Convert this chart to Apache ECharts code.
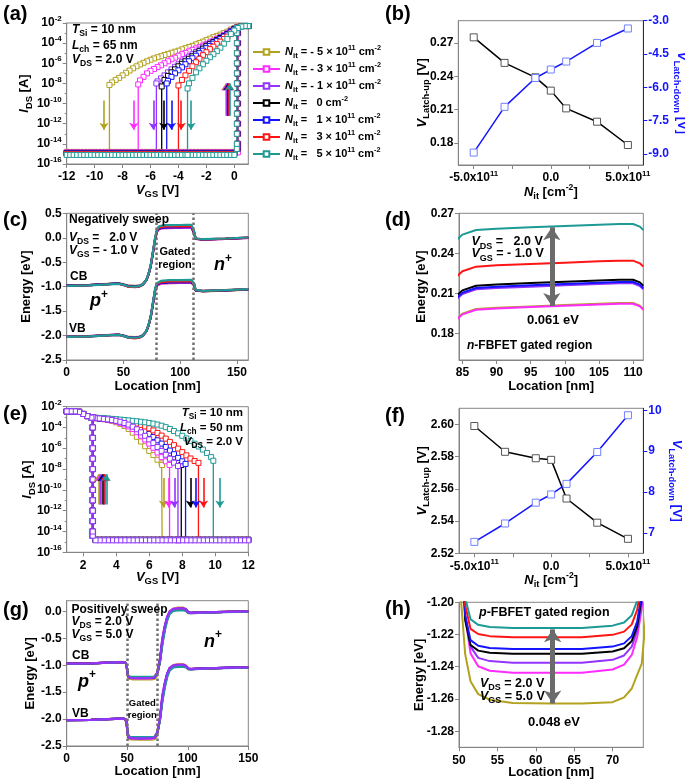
<!DOCTYPE html>
<html><head><meta charset="utf-8">
<script src="https://cdn.jsdelivr.net/npm/echarts@6/dist/echarts.min.js"></script>
<style>html,body{margin:0;padding:0;background:#fff}#c{width:685px;height:782px}</style>
</head><body><div id="c"></div>
<script>
// ---------------- DATA ----------------
const NIT = [-5, -3, -1, 0, 1, 3, 5];            // x 1e11 cm^-2
const VLU_B = [0.275, 0.252, 0.239, 0.227, 0.211, 0.199, 0.178];
const VLD_B = [-8.94, -6.88, -5.58, -5.20, -4.84, -4.00, -3.35];
const VLU_F = [2.599, 2.583, 2.579, 2.578, 2.554, 2.539, 2.529];
const VLD_F = [6.78, 7.23, 7.74, 7.94, 8.20, 8.98, 9.88];

// (a) n-FBFET I-V, log10(I_DS)
const GRID_UP_A = [1, 0.75, 0.5, 0.25, 0, -0.25, -0.5, -0.75, -1, -1.25, -1.5, -1.75, -2, -2.25, -2.5, -2.75, -3, -3.25, -3.5, -3.75, -4, -4.25, -4.5, -4.75, -5, -5.25, -5.5, -5.75, -6, -6.25, -6.5, -6.75, -7, -7.25, -7.5, -7.75, -8, -8.25, -8.5, -8.75];
const GRID_LOW_A = [-12, -11.75, -11.5, -11.25, -11, -10.75, -10.5, -10.25, -10, -9.75, -9.5, -9.25, -9, -8.75, -8.5, -8.25, -8, -7.75, -7.5, -7.25, -7, -6.75, -6.5, -6.25, -6, -5.75, -5.5, -5.25, -5, -4.75, -4.5, -4.25, -4, -3.75, -3.5, -3.25, -3, -2.75, -2.5, -2.25, -2, -1.75, -1.5, -1.25, -1, -0.75, -0.5, -0.25, 0, 0.25];
const UP_A = [
  [-2.3, -2.3, -2.3, -2.35, -2.5, -2.65, -2.85, -3.0, -3.15, -3.28, -3.4, -3.55, -3.7, -3.85, -3.98, -4.12, -4.27, -4.38, -4.5, -4.62, -4.75, -4.85, -4.95, -5.07, -5.18, -5.3, -5.4, -5.52, -5.65, -5.8, -5.95, -6.12, -6.3, -6.5, -6.72, -6.95, -7.2, -7.45, -7.65, -7.9],
  [-2.3, -2.3, -2.3, -2.4, -2.55, -2.75, -3.0, -3.2, -3.4, -3.57, -3.75, -3.92, -4.1, -4.25, -4.4, -4.53, -4.67, -4.82, -4.97, -5.1, -5.25, -5.45, -5.6, -5.8, -6.0, -6.2, -6.38, -6.57, -6.75, -7.0, -7.35, -7.7],
  [-2.3, -2.3, -2.3, -2.4, -2.6, -2.8, -3.05, -3.25, -3.45, -3.65, -3.85, -4.02, -4.2, -4.42, -4.65, -4.88, -5.1, -5.35, -5.6, -5.85, -6.1, -6.35, -6.6, -6.9, -7.2, -7.5, -7.8],
  [-2.3, -2.3, -2.3, -2.4, -2.6, -2.85, -3.1, -3.3, -3.5, -3.7, -3.9, -4.1, -4.3, -4.55, -4.8, -5.05, -5.3, -5.55, -5.8, -6.05, -6.3, -6.6, -6.9, -7.25, -7.65],
  [-2.3, -2.3, -2.3, -2.42, -2.65, -2.9, -3.15, -3.35, -3.6, -3.8, -4.05, -4.28, -4.5, -4.75, -5.0, -5.25, -5.5, -5.8, -6.1, -6.4, -6.7, -7.0, -7.35, -7.75],
  [-2.3, -2.3, -2.3, -2.45, -2.8, -3.05, -3.35, -3.6, -3.85, -4.1, -4.35, -4.6, -4.9, -5.2, -5.55, -5.9, -6.3, -6.75, -7.2, -7.65],
  [-2.3, -2.3, -2.35, -2.5, -2.75, -3.1, -3.6, -4.05, -4.45, -4.8, -5.1, -5.4, -5.75, -6.1, -6.5, -6.9, -7.45, -8.0]
];
const LDTOP_A = [-8.15, -8.1, -8.0, -8.3, -8.0, -8.2, -8.5];
const OFF_A = [-14.8, -14.85, -14.9, -14.9, -14.95, -15.0, -15.1];
const RISE_A = [-14.5, -14, -13, -12, -11, -10, -9, -8, -7, -6, -5, -4, -3, -2.45];
const ARR_DN_A_X = [-9.33, -7.2, -5.8, -5.05, -4.5, -3.8, -3.1];
const ARR_DN_A_Y = [-9.7, -12.6];
const ARR_UP_A_X = [-0.62, -0.57, -0.52, -0.47, -0.42, -0.37, -0.32];
const ARR_UP_A_Y = [-11.2, -8.0];

// (e) p-FBFET I-V, log10(I_DS)
const GRID_E = [1, 1.25, 1.5, 1.75, 2, 2.25, 2.5, 2.75, 3, 3.25, 3.5, 3.75, 4, 4.25, 4.5, 4.75, 5, 5.25, 5.5, 5.75, 6, 6.25, 6.5, 6.75, 7, 7.25, 7.5, 7.75, 8, 8.25, 8.5, 8.75, 9, 9.25, 9.5, 9.75, 10, 10.25, 10.5, 10.75, 11, 11.25, 11.5, 11.75, 12];
const UP_E = [
  [-2.45, -2.45, -2.45, -2.5, -2.7, -2.9, -3.05, -3.1, -3.15, -3.2, -3.28, -3.38, -3.5, -3.65, -3.85, -4.15, -4.5, -4.9, -5.35, -5.8, -6.25, -6.65, -7.1, -7.45],
  [-2.45, -2.45, -2.45, -2.5, -2.7, -2.9, -3.05, -3.1, -3.15, -3.2, -3.25, -3.32, -3.42, -3.55, -3.7, -3.9, -4.15, -4.45, -4.8, -5.15, -5.55, -5.95, -6.4, -6.85, -7.25],
  [-2.45, -2.45, -2.45, -2.5, -2.7, -2.9, -3.05, -3.1, -3.13, -3.18, -3.22, -3.28, -3.36, -3.45, -3.57, -3.72, -3.92, -4.17, -4.47, -4.8, -5.15, -5.5, -5.88, -6.25, -6.62, -7.0, -7.38],
  [-2.45, -2.45, -2.45, -2.5, -2.7, -2.9, -3.05, -3.1, -3.13, -3.17, -3.2, -3.25, -3.32, -3.4, -3.5, -3.63, -3.8, -4.0, -4.25, -4.52, -4.82, -5.13, -5.45, -5.8, -6.15, -6.5, -6.88, -7.25],
  [-2.45, -2.45, -2.45, -2.5, -2.7, -2.9, -3.05, -3.08, -3.12, -3.15, -3.2, -3.24, -3.3, -3.37, -3.45, -3.56, -3.7, -3.88, -4.1, -4.35, -4.62, -4.92, -5.23, -5.55, -5.88, -6.22, -6.57, -6.92, -7.25],
  [-2.45, -2.45, -2.45, -2.5, -2.7, -2.9, -3.05, -3.08, -3.1, -3.13, -3.17, -3.2, -3.25, -3.3, -3.36, -3.43, -3.52, -3.62, -3.75, -3.9, -4.08, -4.28, -4.52, -4.78, -5.07, -5.38, -5.7, -6.03, -6.37, -6.68, -6.98, -7.22],
  [-2.45, -2.45, -2.45, -2.5, -2.7, -2.9, -3.05, -3.05, -3.08, -3.1, -3.13, -3.17, -3.2, -3.24, -3.28, -3.32, -3.36, -3.4, -3.45, -3.5, -3.56, -3.63, -3.72, -3.83, -3.97, -4.14, -4.34, -4.56, -4.8, -5.05, -5.3, -5.56, -5.83, -6.12, -6.45, -6.85]
];
const LDTOP_E = [-7.6, -7.6, -7.7, -7.6, -7.5, -7.4, -7.2];
const OFF_E = [-14.8, -14.8, -14.85, -14.8, -14.8, -14.8, -14.8];
const RISE_E = [-14.4, -14, -13, -12, -11, -10, -9, -8, -7, -6, -5, -4, -3];
const ARR_DN_E_X = [6.86, 7.18, 7.52, 8.49, 8.83, 9.29, 10.28];
const ARR_DN_E_Y = [-8.85, -11.7];
const ARR_UP_E_X = [2.92, 3.0, 3.08, 3.16, 3.24, 3.32, 3.4];
const ARR_UP_E_Y = [-11.4, -8.5];

// (c)/(d) n-FBFET band diagram [eV]
const LOC_C = [0, 20, 40, 46, 50, 54, 60, 64, 67, 70, 72, 74, 76, 78, 79.5, 81, 83, 85, 87, 90, 95, 100, 105, 108, 110, 111, 111.5, 112.5, 113.5, 115, 120, 140, 160];
const CB_C = [
  [-0.975, -0.965, -0.94, -0.935, -0.95, -0.975, -0.985, -0.975, -0.945, -0.875, -0.765, -0.59, -0.32, -0.04, 0.12, 0.169, 0.185, 0.1947, 0.1982, 0.1992, 0.2002, 0.2012, 0.2022, 0.2027, 0.2027, 0.2007, 0.1982, 0.075, -0.025, -0.04, -0.04, -0.025, -0.005],
  [-0.978, -0.967, -0.942, -0.937, -0.955, -0.98, -0.99, -0.98, -0.95, -0.875, -0.76, -0.585, -0.31, -0.03, 0.12, 0.1687, 0.1847, 0.1942, 0.1977, 0.1987, 0.1997, 0.2007, 0.2017, 0.2022, 0.2022, 0.2002, 0.1977, 0.075, -0.025, -0.04, -0.038, -0.023, -0.003],
  [-0.98, -0.968, -0.943, -0.938, -0.96, -0.99, -1.0, -0.99, -0.955, -0.875, -0.755, -0.58, -0.3, -0.02, 0.135, 0.184, 0.2, 0.2095, 0.213, 0.214, 0.215, 0.216, 0.217, 0.2175, 0.2175, 0.2155, 0.213, 0.09, -0.02, -0.035, -0.036, -0.021, -0.002],
  [-0.98, -0.969, -0.944, -0.939, -0.96, -0.99, -1.0, -0.99, -0.957, -0.875, -0.755, -0.578, -0.3, -0.015, 0.14, 0.1867, 0.2027, 0.2122, 0.2157, 0.2167, 0.2177, 0.2187, 0.2197, 0.2202, 0.2202, 0.2182, 0.2157, 0.09, -0.02, -0.035, -0.035, -0.02, 0.0],
  [-0.981, -0.97, -0.945, -0.94, -0.963, -0.995, -1.005, -0.995, -0.96, -0.875, -0.755, -0.576, -0.295, -0.01, 0.14, 0.185, 0.201, 0.2105, 0.214, 0.215, 0.216, 0.217, 0.218, 0.2185, 0.2185, 0.2165, 0.214, 0.09, -0.02, -0.034, -0.034, -0.019, 0.001],
  [-0.982, -0.971, -0.946, -0.941, -0.966, -1.0, -1.012, -1.0, -0.963, -0.875, -0.752, -0.573, -0.29, 0.0, 0.15, 0.201, 0.217, 0.2265, 0.23, 0.231, 0.232, 0.233, 0.234, 0.2345, 0.2345, 0.2325, 0.23, 0.1, -0.015, -0.032, -0.032, -0.017, 0.003],
  [-0.983, -0.972, -0.947, -0.942, -0.962, -0.992, -1.0, -0.99, -0.957, -0.87, -0.745, -0.565, -0.28, 0.02, 0.17, 0.2285, 0.2445, 0.254, 0.2575, 0.2585, 0.2595, 0.2605, 0.2615, 0.262, 0.262, 0.26, 0.2575, 0.12, -0.01, -0.03, -0.03, -0.015, 0.005]
];
const LOC_CV = [0, 20, 40, 46, 50, 54, 60, 64, 67, 70, 72, 74, 76, 78, 79.5, 81, 83, 90, 100, 110, 111.5, 112.5, 113.5, 115, 120, 140, 160];
const VB_C = [
  [-2.02, -2.01, -1.985, -1.98, -1.995, -2.02, -2.03, -2.02, -1.99, -1.92, -1.81, -1.635, -1.365, -1.085, -0.975, -0.949, -0.94, -0.926, -0.924, -0.922, -0.928, -0.985, -1.08, -1.095, -1.095, -1.08, -1.06],
  [-2.023, -2.012, -1.987, -1.982, -2.0, -2.025, -2.035, -2.025, -1.995, -1.92, -1.805, -1.63, -1.355, -1.075, -0.975, -0.949, -0.94, -0.927, -0.924, -0.923, -0.928, -0.985, -1.08, -1.095, -1.093, -1.078, -1.058],
  [-2.025, -2.013, -1.988, -1.983, -2.005, -2.035, -2.045, -2.035, -2.0, -1.92, -1.8, -1.625, -1.345, -1.065, -0.96, -0.934, -0.925, -0.911, -0.909, -0.908, -0.913, -0.97, -1.075, -1.09, -1.091, -1.076, -1.057],
  [-2.025, -2.014, -1.989, -1.984, -2.005, -2.035, -2.045, -2.035, -2.002, -1.92, -1.8, -1.623, -1.345, -1.06, -0.955, -0.931, -0.922, -0.908, -0.906, -0.905, -0.91, -0.97, -1.075, -1.09, -1.09, -1.075, -1.055],
  [-2.026, -2.015, -1.99, -1.985, -2.008, -2.04, -2.05, -2.04, -2.005, -1.92, -1.8, -1.621, -1.34, -1.055, -0.955, -0.933, -0.924, -0.91, -0.908, -0.907, -0.912, -0.97, -1.075, -1.089, -1.089, -1.074, -1.054],
  [-2.027, -2.016, -1.991, -1.986, -2.011, -2.045, -2.057, -2.045, -2.008, -1.92, -1.797, -1.618, -1.335, -1.045, -0.945, -0.917, -0.908, -0.894, -0.892, -0.891, -0.896, -0.96, -1.07, -1.087, -1.087, -1.072, -1.052],
  [-2.028, -2.017, -1.992, -1.987, -2.007, -2.037, -2.045, -2.035, -2.002, -1.915, -1.79, -1.61, -1.325, -1.025, -0.93, -0.89, -0.881, -0.867, -0.865, -0.863, -0.869, -0.94, -1.065, -1.085, -1.085, -1.07, -1.05]
];
const DIV_C = [79, 111.5];
const ARR_D = [98.1, 0.2595, 0.2005];

// (g)/(h) p-FBFET band diagram [eV]
const LOC_G = [0, 20, 40, 46, 48.5, 49.5, 50.2, 50.8, 51.5, 52.5, 54, 57, 62, 66, 70, 71.5, 72.5, 73.2, 73.8, 74.5, 75.5, 77, 79, 81, 83, 85, 88, 92, 96, 98.5, 100.5, 103, 110, 130, 150];
const CB_G = [
  [-0.968, -0.963, -0.943, -0.938, -0.95, -1.005, -1.195, -1.232, -1.249, -1.257, -1.2605, -1.2625, -1.2628, -1.2628, -1.262, -1.259, -1.2535, -1.245, -1.238, -1.2, -1.1, -0.92, -0.53, -0.285, -0.11, 0.0, 0.055, 0.07, 0.072, 0.045, -0.012, -0.024, -0.02, -0.008, 0.0],
  [-0.969, -0.964, -0.944, -0.939, -0.95, -1.002, -1.16, -1.2087, -1.2317, -1.2397, -1.2425, -1.2437, -1.2437, -1.2437, -1.2417, -1.2387, -1.2327, -1.2217, -1.2037, -1.165, -1.085, -0.905, -0.51, -0.275, -0.1, 0.0, 0.05, 0.062, 0.064, 0.04, -0.015, -0.025, -0.02, -0.008, 0.0],
  [-0.97, -0.965, -0.945, -0.94, -0.95, -1.0, -1.15, -1.2075, -1.2275, -1.2345, -1.2365, -1.2375, -1.2375, -1.2375, -1.2357, -1.233, -1.2275, -1.2175, -1.2005, -1.16, -1.08, -0.9, -0.5, -0.27, -0.1, -0.005, 0.045, 0.055, 0.057, 0.035, -0.018, -0.026, -0.02, -0.008, 0.0],
  [-0.97, -0.965, -0.945, -0.94, -0.95, -1.0, -1.135, -1.211, -1.2265, -1.23, -1.2313, -1.232, -1.232, -1.232, -1.2305, -1.2285, -1.224, -1.215, -1.197, -1.158, -1.085, -0.915, -0.56, -0.3, -0.12, -0.02, 0.035, 0.048, 0.05, 0.03, -0.02, -0.027, -0.021, -0.009, 0.0],
  [-0.971, -0.966, -0.946, -0.941, -0.951, -1.0, -1.13, -1.208, -1.2235, -1.227, -1.2283, -1.229, -1.229, -1.229, -1.2275, -1.2255, -1.221, -1.212, -1.194, -1.155, -1.085, -0.92, -0.57, -0.31, -0.13, -0.025, 0.03, 0.042, 0.044, 0.025, -0.022, -0.028, -0.022, -0.01, 0.0],
  [-0.971, -0.966, -0.946, -0.941, -0.951, -1.0, -1.125, -1.2017, -1.2165, -1.2197, -1.221, -1.2217, -1.2217, -1.2217, -1.2202, -1.2182, -1.2137, -1.2047, -1.187, -1.15, -1.085, -0.93, -0.59, -0.33, -0.15, -0.035, 0.02, 0.032, 0.034, 0.018, -0.025, -0.03, -0.023, -0.01, 0.0],
  [-0.972, -0.967, -0.947, -0.942, -0.952, -1.0, -1.12, -1.197, -1.2105, -1.214, -1.2153, -1.216, -1.216, -1.216, -1.2145, -1.2125, -1.208, -1.199, -1.183, -1.15, -1.09, -0.95, -0.62, -0.36, -0.17, -0.05, 0.01, 0.02, 0.022, 0.01, -0.03, -0.032, -0.025, -0.012, -0.002]
];
const LOC_GV = [0, 20, 40, 46, 48.5, 49.5, 50.2, 51, 53, 60, 70, 72.5, 73.8, 74.5, 75.5, 77, 79, 81, 83, 85, 88, 92, 96, 98.5, 100.5, 103, 110, 130, 150];
const VB_G = [
  [-2.018, -2.013, -1.993, -1.988, -2.0, -2.09, -2.3, -2.36, -2.378, -2.3828, -2.382, -2.374, -2.358, -2.32, -2.2, -2.0, -1.59, -1.345, -1.16, -1.05, -0.995, -0.98, -0.978, -1.005, -1.058, -1.067, -1.061, -1.048, -1.04],
  [-2.019, -2.014, -1.994, -1.989, -2.0, -2.072, -2.26, -2.338, -2.361, -2.3637, -2.3617, -2.353, -2.324, -2.28, -2.185, -1.985, -1.57, -1.335, -1.15, -1.05, -1.0, -0.988, -0.986, -1.01, -1.06, -1.068, -1.062, -1.049, -1.04],
  [-2.02, -2.015, -1.995, -1.99, -2.0, -2.07, -2.25, -2.335, -2.355, -2.3575, -2.3555, -2.348, -2.32, -2.275, -2.18, -1.98, -1.56, -1.33, -1.15, -1.055, -1.005, -0.995, -0.993, -1.015, -1.062, -1.069, -1.062, -1.049, -1.04],
  [-2.02, -2.015, -1.995, -1.99, -2.0, -2.07, -2.235, -2.336, -2.35, -2.352, -2.35, -2.344, -2.316, -2.27, -2.185, -1.995, -1.62, -1.36, -1.17, -1.07, -1.015, -1.002, -1.0, -1.02, -1.065, -1.07, -1.063, -1.05, -1.04],
  [-2.021, -2.016, -1.996, -1.991, -2.0, -2.07, -2.23, -2.333, -2.347, -2.349, -2.347, -2.341, -2.313, -2.266, -2.185, -2.0, -1.63, -1.37, -1.18, -1.075, -1.02, -1.008, -1.006, -1.025, -1.067, -1.071, -1.064, -1.05, -1.04],
  [-2.021, -2.016, -1.996, -1.991, -2.0, -2.07, -2.225, -2.326, -2.34, -2.342, -2.34, -2.334, -2.306, -2.262, -2.185, -2.01, -1.65, -1.39, -1.2, -1.085, -1.03, -1.018, -1.016, -1.032, -1.07, -1.073, -1.065, -1.051, -1.04],
  [-2.022, -2.017, -1.997, -1.992, -2.0, -2.07, -2.22, -2.32, -2.334, -2.336, -2.334, -2.328, -2.3, -2.26, -2.19, -2.03, -1.68, -1.42, -1.22, -1.1, -1.04, -1.03, -1.028, -1.04, -1.075, -1.075, -1.067, -1.053, -1.042]
];
const DIV_G = [50, 75];
const ARR_H = [62.2, -1.2168, -1.2628];

const LEG_KEYS = ['nm5', 'nm3', 'nm1', 'n0', 'n1', 'n3', 'n5'];
const LEG_LABELS = [
  '{i|N}{sub|it} = - 5 \u00d7 10{sup|11} cm{sup|-2}',
  '{i|N}{sub|it} = - 3 \u00d7 10{sup|11} cm{sup|-2}',
  '{i|N}{sub|it} = - 1 \u00d7 10{sup|11} cm{sup|-2}',
  '{i|N}{sub|it} =   0 cm{sup|-2}',
  '{i|N}{sub|it} =   1 \u00d7 10{sup|11} cm{sup|-2}',
  '{i|N}{sub|it} =   3 \u00d7 10{sup|11} cm{sup|-2}',
  '{i|N}{sub|it} =   5 \u00d7 10{sup|11} cm{sup|-2}'
];

// ---------------- STYLE ----------------
const FF = '"Liberation Sans", Arial, Helvetica, sans-serif';
const AXC = '#858585';
const BLUE = '#1414FF';
const COLORS = ['#B3A21F', '#FF2BFF', '#9333FF', '#000000', '#1414FF', '#FF1414', '#1E9A96'];

function R(fs) {
  const sb = +(fs * 0.72).toFixed(1), sp = +(fs * 0.66).toFixed(1);
  return {
    i: {fontStyle: 'italic', fontWeight: 'bold', fontFamily: FF, fontSize: fs},
    sub: {fontWeight: 'bold', fontFamily: FF, fontSize: sb, lineHeight: sb, verticalAlign: 'bottom'},
    sup: {fontWeight: 'bold', fontFamily: FF, fontSize: sp, lineHeight: sp, verticalAlign: 'top'}
  };
}

function axis(kind, gi, o) {
  const color = o.color || '#000';
  const a = {
    type: 'value', gridIndex: gi, min: o.min, max: o.max,
    position: o.pos || (kind === 'x' ? 'bottom' : 'left'),
    name: o.name, nameLocation: 'middle', nameGap: o.gap, nameMoveOverlap: false,
    nameTextStyle: {color: color, fontSize: 13, fontWeight: 'bold', fontFamily: FF, lineHeight: 18, rich: R(13)},
    axisLine: {show: true, onZero: false, lineStyle: {color: o.lineColor || AXC, width: 1}},
    axisTick: {show: true, inside: false, length: 4, lineStyle: {color: o.lineColor || AXC}},
    axisLabel: {show: true, color: color, fontSize: 12, fontWeight: 'bold', fontFamily: FF, margin: 5, lineHeight: 16, rich: R(12), formatter: o.fmt},
    splitLine: {show: false}
  };
  if (o.nameRotate !== undefined) a.nameRotate = o.nameRotate;
  if (o.interval !== undefined) {
    a.interval = o.interval;
  } else {
    a.axisLabel.customValues = o.labels;
    a.axisTick.customValues = o.ticks || o.labels;
  }
  if (o.minor) a.minorTick = {show: true, splitNumber: o.minor, length: 2, lineStyle: {color: AXC}};
  return a;
}

const fExp = v => '10{sup|' + v + '}';
const fN = v => v === 0 ? '0.0' : (v.toFixed(1) + 'x10{sup|11}');
const f0 = v => String(v);
const f1 = v => v.toFixed(1);
const f2 = v => v.toFixed(2);

const grids = [
  {left: 66.7, top: 23, width: 181.6, height: 141},
  {left: 458.3, top: 20.7, width: 185, height: 144.3},
  {left: 66.7, top: 213.3, width: 181.6, height: 146.7},
  {left: 459, top: 213.3, width: 184.3, height: 146.7},
  {left: 66.7, top: 406.7, width: 181.6, height: 145.6},
  {left: 459, top: 408.3, width: 184.3, height: 145},
  {left: 66.7, top: 600.7, width: 181.6, height: 145.3},
  {left: 459, top: 602.3, width: 184.3, height: 145}
].map(g => Object.assign(g, {show: true, borderColor: AXC, borderWidth: 1, backgroundColor: 'transparent', containLabel: false, outerBoundsMode: 'none'}));

const nameV = s => '{i|V}{sub|' + s + '} [V]';
const xAxis = [
  axis('x', 0, {min: -12, max: 1, labels: [-12, -10, -8, -6, -4, -2, 0], fmt: f0, name: nameV('GS'), gap: 17}),
  axis('x', 1, {min: -6, max: 6, labels: [-5, 0, 5], ticks: [-5, -2.5, 0, 2.5, 5], fmt: fN, name: '{i|N}{sub|it} [cm{sup|-2}]', gap: 18}),
  axis('x', 2, {min: 0, max: 160, labels: [0, 50, 100, 150], fmt: f0, name: 'Location [nm]', gap: 17}),
  axis('x', 3, {min: 84.5, max: 111.5, labels: [85, 90, 95, 100, 105, 110], fmt: f0, name: 'Location [nm]', gap: 17}),
  axis('x', 4, {min: 1, max: 12, labels: [2, 4, 6, 8, 10, 12], fmt: f0, name: nameV('GS'), gap: 16}),
  axis('x', 5, {min: -6, max: 6, labels: [-5, 0, 5], ticks: [-5, -2.5, 0, 2.5, 5], fmt: fN, name: '{i|N}{sub|it} [cm{sup|-2}]', gap: 18}),
  axis('x', 6, {min: 0, max: 150, labels: [0, 50, 100, 150], fmt: f0, name: 'Location [nm]', gap: 16}),
  axis('x', 7, {min: 50, max: 74, labels: [50, 55, 60, 65, 70], fmt: f0, name: 'Location [nm]', gap: 16})
];
const yAxis = [
  axis('y', 0, {min: -16, max: -2, interval: 2, minor: 2, fmt: fExp, name: '{i|I}{sub|DS} [A]', gap: 33}),
  axis('y', 1, {min: 0.16, max: 0.29, labels: [0.18, 0.21, 0.24, 0.27], fmt: f2, name: nameV('Latch-up'), gap: 27}),
  axis('y', 1, {min: -9.5, max: -3.0, pos: 'right', labels: [-9, -7.5, -6, -4.5, -3], fmt: f1, name: nameV('Latch-down'), gap: 29, color: BLUE, lineColor: BLUE, nameRotate: -90}),
  axis('y', 2, {min: -2.5, max: 0.5, interval: 0.5, fmt: f1, name: 'Energy [eV]', gap: 31}),
  axis('y', 3, {min: 0.16, max: 0.27, labels: [0.18, 0.21, 0.24, 0.27], fmt: f2, name: 'Energy [eV]', gap: 29}),
  axis('y', 4, {min: -16, max: -2, interval: 2, minor: 2, fmt: fExp, name: '{i|I}{sub|DS} [A]', gap: 30}),
  axis('y', 5, {min: 2.52, max: 2.61, labels: [2.52, 2.54, 2.56, 2.58, 2.60], fmt: f2, name: nameV('Latch-up'), gap: 28}),
  axis('y', 5, {min: 6.5, max: 10.05, pos: 'right', labels: [7, 8, 9, 10], fmt: f0, name: nameV('Latch-down'), gap: 24, color: BLUE, lineColor: BLUE, nameRotate: -90}),
  axis('y', 6, {min: -2.5, max: 0.2, labels: [-2.5, -2.0, -1.5, -1.0, -0.5, 0.0], fmt: f1, name: 'Energy [eV]', gap: 27}),
  axis('y', 7, {min: -1.29, max: -1.20, labels: [-1.28, -1.26, -1.24, -1.22, -1.20], fmt: f2, name: 'Energy [eV]', gap: 31})
];

const series = [];
const arrowML = (color, lines) => ({
  silent: true, animation: false, symbol: ['none', 'arrow'], symbolSize: 7,
  label: {show: false}, emphasis: {disabled: true},
  lineStyle: {color: color, width: 1.6, type: 'solid', opacity: 1},
  itemStyle: {color: color},
  data: lines
});
const seg = (x, y0, y1) => [{coord: [x, y0]}, {coord: [x, y1]}];

// (a)
for (let k = 0; k < 7; k++) {
  const pts = [], vlu = VLU_B[k], vld = VLD_B[k], off = OFF_A[k], up = UP_A[k];
  GRID_LOW_A.forEach(v => { if (v < vlu) pts.push([v, off]); });
  RISE_A.forEach(l => pts.push([vlu, l]));
  for (let j = up.length - 1; j >= 0; j--) if (GRID_UP_A[j] > vlu) pts.push([GRID_UP_A[j], up[j]]);
  up.forEach((y, j) => pts.push([GRID_UP_A[j], y]));
  pts.push([vld, LDTOP_A[k]]);
  pts.push([vld, off]);
  series.push({
    name: LEG_KEYS[k], type: 'line', xAxisIndex: 0, yAxisIndex: 0, data: pts,
    symbol: 'rect', symbolSize: 5, showAllSymbol: true,
    lineStyle: {color: COLORS[k], width: 1.3},
    itemStyle: {color: '#fff', borderColor: COLORS[k], borderWidth: 1},
    emphasis: {disabled: true}, animation: false,
    markLine: arrowML(COLORS[k], [seg(ARR_DN_A_X[k], ARR_DN_A_Y[0], ARR_DN_A_Y[1]), seg(ARR_UP_A_X[k], ARR_UP_A_Y[0], ARR_UP_A_Y[1])])
  });
}
// (b) & (f)
function latchSeries(xi, yl, yr, up, dn) {
  series.push({type: 'line', xAxisIndex: xi, yAxisIndex: yl, data: NIT.map((n, i) => [n, up[i]]),
    symbol: 'rect', symbolSize: 7, lineStyle: {color: '#000', width: 1.5},
    itemStyle: {color: '#fff', borderColor: '#555', borderWidth: 1}, emphasis: {disabled: true}, animation: false});
  series.push({type: 'line', xAxisIndex: xi, yAxisIndex: yr, data: NIT.map((n, i) => [n, dn[i]]),
    symbol: 'rect', symbolSize: 7, lineStyle: {color: BLUE, width: 1.5},
    itemStyle: {color: '#fff', borderColor: '#7080FF', borderWidth: 1}, emphasis: {disabled: true}, animation: false});
}
latchSeries(1, 1, 2, VLU_B, VLD_B);
latchSeries(5, 6, 7, VLU_F, VLD_F);

// (c) band
const divML = (vals) => ({silent: true, animation: false, symbol: 'none', label: {show: false}, emphasis: {disabled: true},
  lineStyle: {color: '#707070', width: 2.5, type: 'dotted', opacity: 1}, data: vals.map(v => ({xAxis: v}))});
const bandLine = (xi, yi, pts, k, w, z, extra) => Object.assign({
  type: 'line', xAxisIndex: xi, yAxisIndex: yi, data: pts,
  symbol: 'none', lineStyle: {color: COLORS[k], width: w}, z: z, emphasis: {disabled: true}, animation: false
}, extra || {});
const pair = (loc, vals) => loc.map((x, i) => [x, vals[i]]);
for (let k = 0; k < 7; k++) {
  series.push(bandLine(2, 3, pair(LOC_C, CB_C[k]), k, 2.2, 2));
  series.push(bandLine(2, 3, pair(LOC_CV, VB_C[k]), k, 2.2, 2, k === 6 ? {markLine: divML(DIV_C)} : {}));
}
// (d) zoom of gated-region conduction band
const grayArrow = (x, y0, y1) => ({silent: true, animation: false, symbol: ['arrow', 'arrow'], symbolSize: 13,
  label: {show: false}, emphasis: {disabled: true}, lineStyle: {color: '#6b6b6b', width: 5, type: 'solid', opacity: 1},
  itemStyle: {color: '#6b6b6b'},
  data: [seg(x, y0, y1)]});
for (let k = 0; k < 7; k++) {
  const pts = pair(LOC_C, CB_C[k]).filter(p => p[0] >= 83 && p[0] <= 111.5);
  series.push(bandLine(3, 4, pts, k, 2, 2, k === 6 ? {markLine: grayArrow(ARR_D[0], ARR_D[1], ARR_D[2])} : {}));
}
// (e)
for (let k = 0; k < 7; k++) {
  const pts = [], vlu = VLU_F[k], vld = VLD_F[k], off = OFF_E[k], up = UP_E[k];
  up.forEach((y, j) => pts.push([GRID_E[j], y]));
  pts.push([vld, LDTOP_E[k]]);
  pts.push([vld, off]);
  for (let j = GRID_E.length - 1; j >= 0; j--) if (GRID_E[j] > vlu) pts.push([GRID_E[j], off]);
  RISE_E.forEach(l => pts.push([vlu, l]));
  for (let j = GRID_E.length - 1; j >= 0; j--) if (GRID_E[j] < vlu) pts.push([GRID_E[j], up[j]]);
  series.push({
    type: 'line', xAxisIndex: 4, yAxisIndex: 5, data: pts, z: k === 2 ? 3 : 2,
    symbol: 'rect', symbolSize: 5, showAllSymbol: true,
    lineStyle: {color: COLORS[k], width: 1.3},
    itemStyle: {color: '#fff', borderColor: COLORS[k], borderWidth: 1},
    emphasis: {disabled: true}, animation: false,
    markLine: arrowML(COLORS[k], [seg(ARR_DN_E_X[k], ARR_DN_E_Y[0], ARR_DN_E_Y[1]), seg(ARR_UP_E_X[k], ARR_UP_E_Y[0], ARR_UP_E_Y[1])])
  });
}
// (g)
for (let k = 0; k < 7; k++) {
  const z = k === 2 ? 3 : 2;
  series.push(bandLine(6, 8, pair(LOC_G, CB_G[k]), k, 2.2, z));
  series.push(bandLine(6, 8, pair(LOC_GV, VB_G[k]), k, 2.2, z, k === 6 ? {markLine: divML(DIV_G)} : {}));
}
// (h)
for (let k = 0; k < 7; k++) {
  series.push(bandLine(7, 9, pair(LOC_G, CB_G[k]), k, 2, 2, k === 6 ? {markLine: grayArrow(ARR_H[0], ARR_H[1], ARR_H[2])} : {}));
}

// ---------------- TEXT ----------------
function T(x, y, text, o) {
  o = o || {};
  const fs = o.fs || 12;
  const al = o.align || 'left';
  return {type: 'text', x: x, y: y, z: 100, silent: true,
    style: {text: text, fill: o.color || '#000', fontSize: fs, fontWeight: 'bold', fontFamily: FF,
      fontStyle: o.italic ? 'italic' : 'normal', align: al, textAlign: al,
      verticalAlign: 'middle', textVerticalAlign: 'middle', lineHeight: Math.round(fs * 1.4), rich: R(fs)}};
}
const graphic = [
  T(3, 14, '(a)', {fs: 20}), T(385, 14, '(b)', {fs: 20}),
  T(3, 220, '(c)', {fs: 20}), T(385, 220, '(d)', {fs: 20}),
  T(3, 414, '(e)', {fs: 20}), T(385, 416, '(f)', {fs: 20}),
  T(3, 610, '(g)', {fs: 20}), T(385, 609, '(h)', {fs: 20}),
  // (a)
  T(72, 30, '{i|T}{sub|Si} = 10 nm'), T(72, 45.5, '{i|L}{sub|ch} = 65 nm'), T(72, 60, '{i|V}{sub|DS} = 2.0 V'),
  // (c)
  T(69, 220, 'Negatively sweep'), T(69, 237.5, '{i|V}{sub|DS} =   2.0 V'), T(69, 250.5, '{i|V}{sub|GS} = - 1.0 V'),
  T(70, 276.7, 'CB'), T(90, 301, '{i|p}{sup|+}', {fs: 18}), T(69, 328.3, 'VB'),
  T(175, 251.7, 'Gated', {fs: 11, align: 'center'}), T(175, 265, 'region', {fs: 11, align: 'center'}),
  T(223, 265, '{i|n}{sup|+}', {fs: 18, align: 'center'}),
  // (d)
  T(471.5, 241.7, '{i|V}{sub|DS} =   2.0 V', {fs: 12.5}), T(471.5, 254, '{i|V}{sub|GS} = - 1.0 V', {fs: 12.5}),
  T(553, 320, '0.061 eV', {fs: 13, align: 'center'}), T(467, 345.7, '{i|n}-FBFET gated region'),
  // (e)
  T(243, 413, '{i|T}{sub|Si} = 10 nm', {fs: 11.5, align: 'right'}), T(243, 428, '{i|L}{sub|ch} = 50 nm', {fs: 11.5, align: 'right'}),
  T(243, 441.5, '{i|V}{sub|DS} = 2.0 V', {fs: 11.5, align: 'right'}),
  // (g)
  T(71.5, 609.3, 'Positively sweep'), T(71.5, 621.7, '{i|V}{sub|DS} = 2.0 V'), T(71.5, 635, '{i|V}{sub|GS} = 5.0 V'),
  T(72, 656, 'CB'), T(78, 681.7, '{i|p}{sup|+}', {fs: 18}), T(72, 713.3, 'VB'),
  T(142.3, 703.3, 'Gated', {fs: 9.5, align: 'center'}), T(142.3, 715, 'region', {fs: 9.5, align: 'center'}),
  T(213, 641.7, '{i|n}{sup|+}', {fs: 18, align: 'center'}),
  // (h)
  T(479, 612.7, '{i|p}-FBFET gated region', {fs: 12.5}),
  T(480, 683.3, '{i|V}{sub|DS} = 2.0 V', {fs: 12.5}), T(480, 696.5, '{i|V}{sub|GS} = 5.0 V', {fs: 12.5}),
  T(554, 722.7, '0.048 eV', {fs: 13, align: 'center'})
];

const chart = echarts.init(document.getElementById('c'), null, {renderer: 'canvas'});
chart.setOption({
  animation: false,
  backgroundColor: '#fff',
  grid: grids,
  xAxis: xAxis,
  yAxis: yAxis,
  legend: {
    data: LEG_KEYS, left: 252, top: 44.5, orient: 'vertical', itemWidth: 27, itemHeight: 7, itemGap: 2,
    padding: 0, selectedMode: false,
    formatter: name => LEG_LABELS[LEG_KEYS.indexOf(name)],
    textStyle: {color: '#000', fontSize: 11, fontWeight: 'bold', fontFamily: FF, lineHeight: 15, rich: R(11)}
  },
  series: series,
  graphic: graphic
});
</script>
</body></html>
